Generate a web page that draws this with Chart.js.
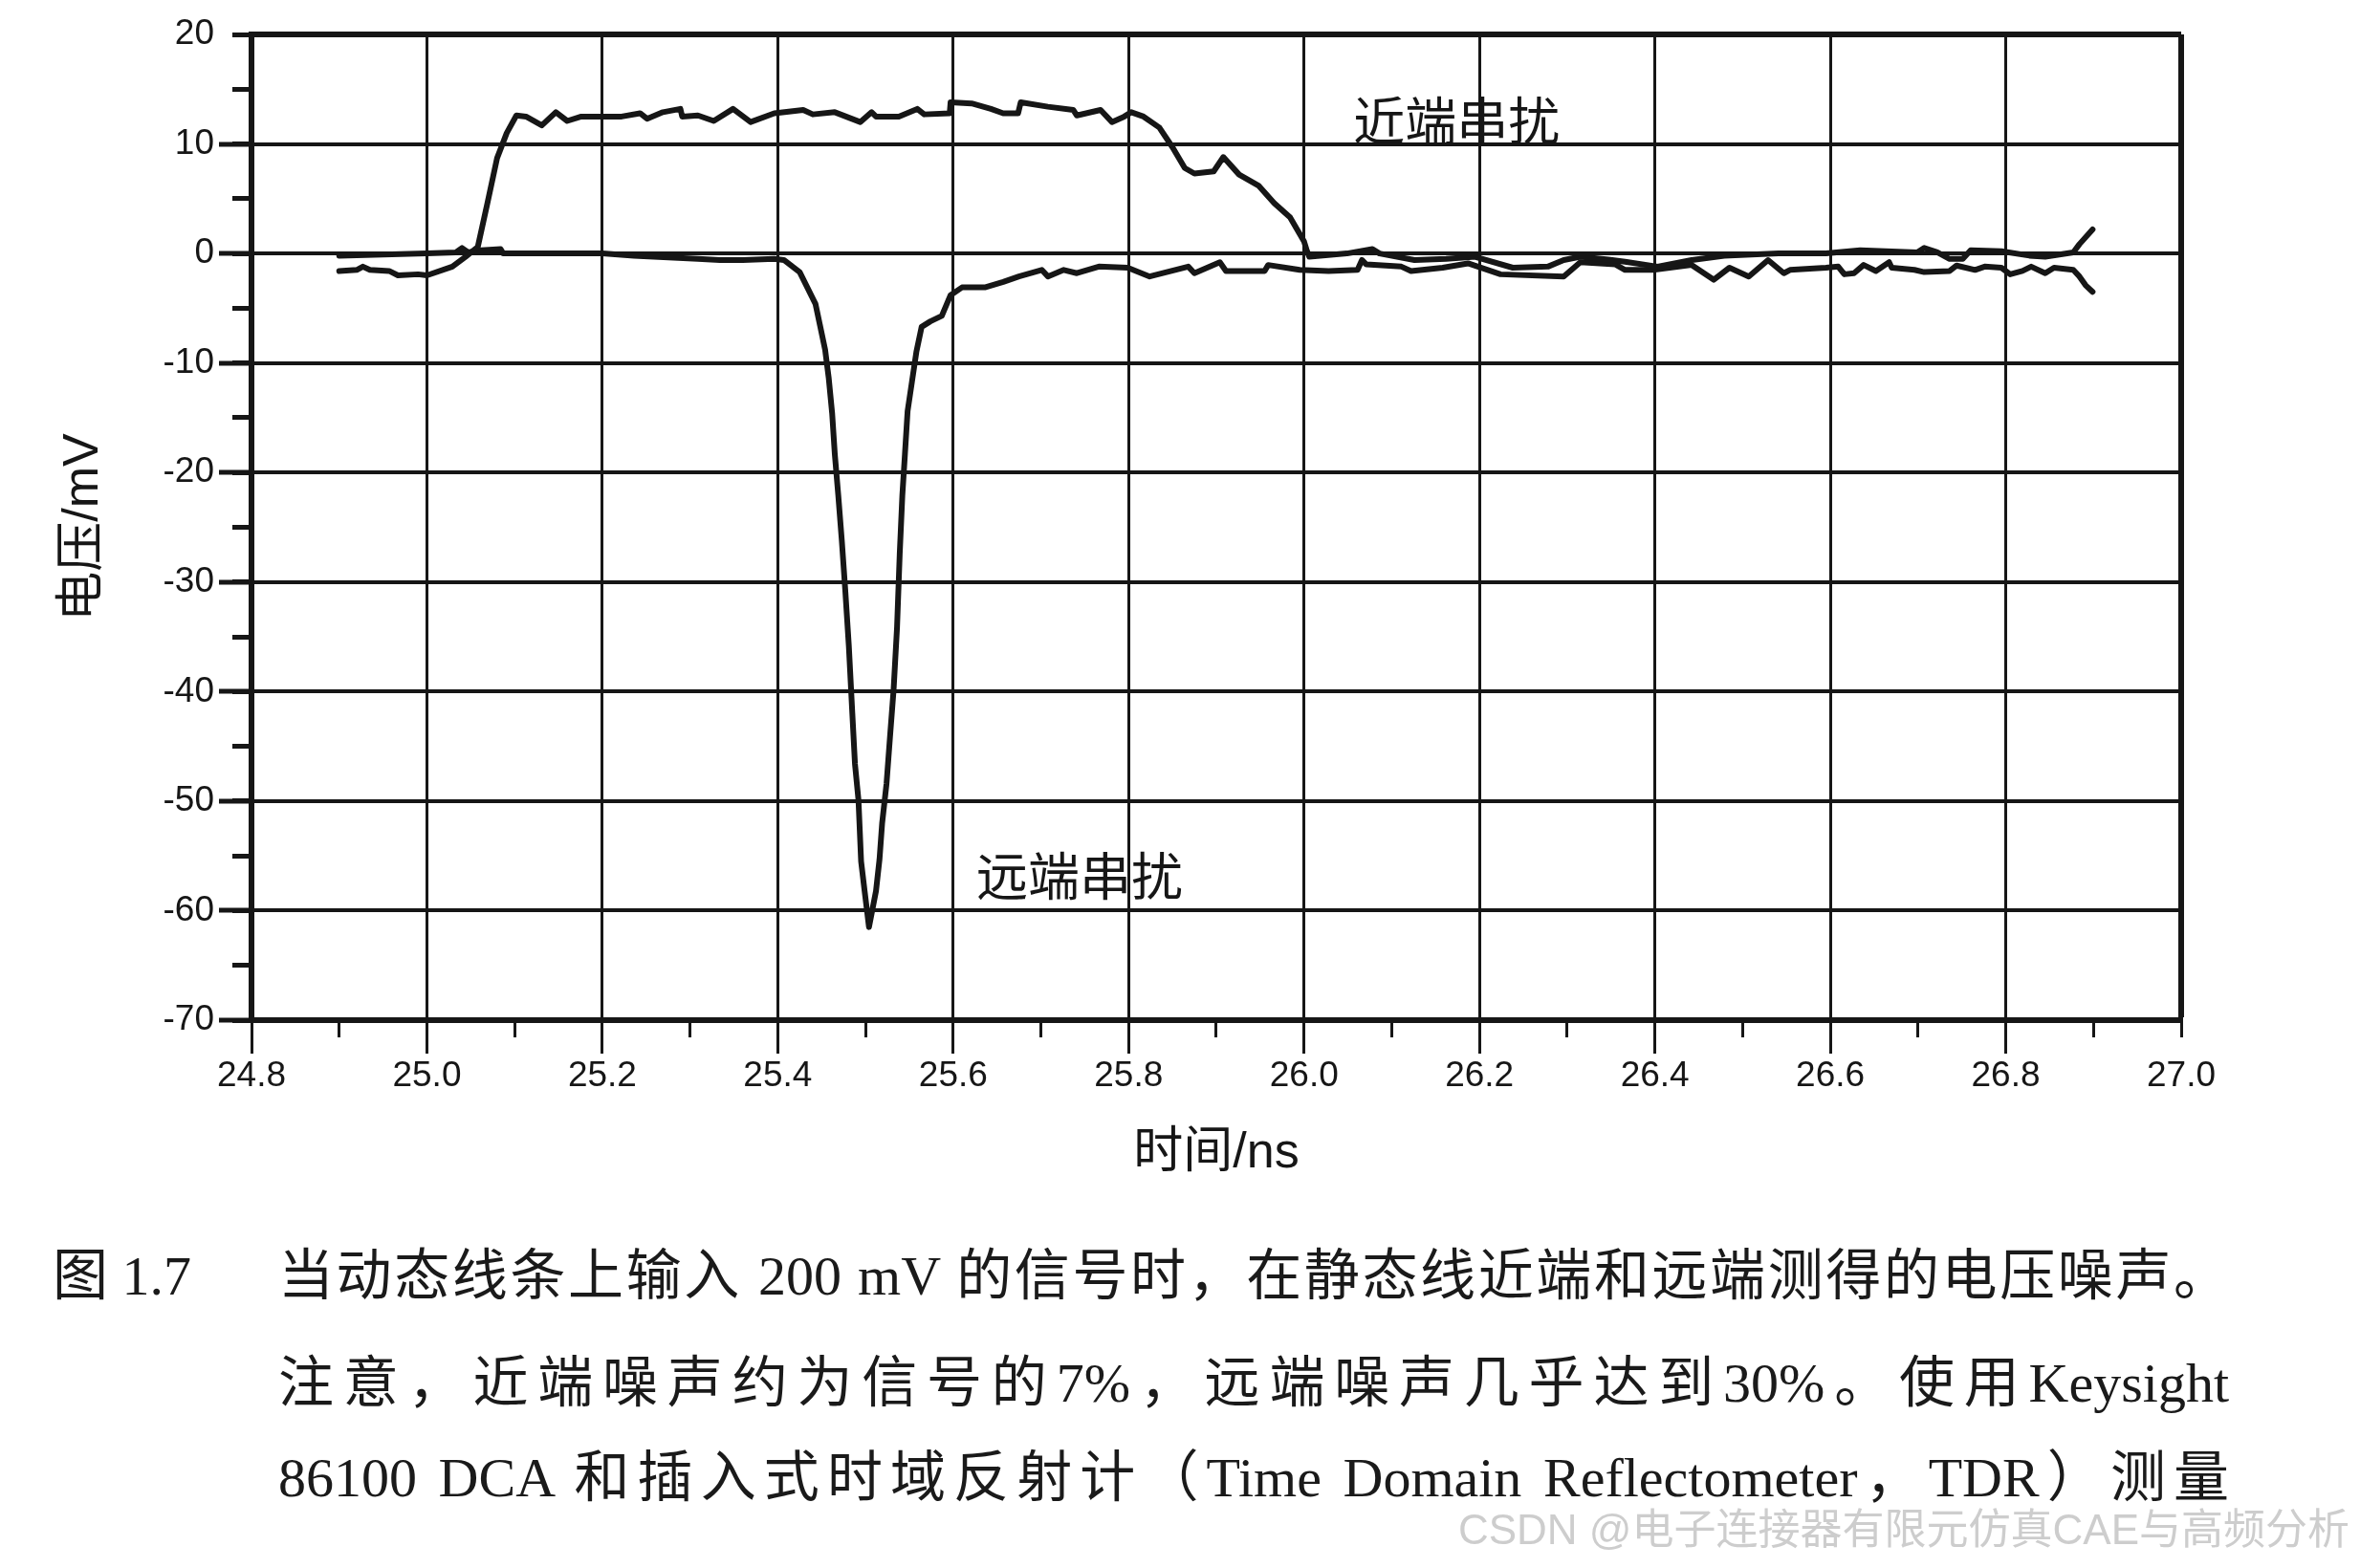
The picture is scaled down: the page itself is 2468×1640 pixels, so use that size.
<!DOCTYPE html>
<html lang="zh-CN">
<head>
<meta charset="utf-8">
<title>近端串扰与远端串扰</title>
<script src="https://cdn.jsdelivr.net/npm/chart.js@4.4.1/dist/chart.umd.min.js"></script>
<style>
  html, body { margin: 0; padding: 0; background: #fff; }
  .page { position: relative; width: 2468px; height: 1640px; overflow: hidden; background: #fff; }
  #crosstalk { position: absolute; left: 0; top: 0; }
  .caption {
    position: absolute;
    font-family: "Liberation Serif", "Noto Sans CJK SC", serif;
    font-size: 58px;
    line-height: 58px;
    color: #1a1a1a;
  }
  .caption-line { left: 291px; width: 2040px; text-align: justify; text-align-last: justify; }
  .watermark {
    position: absolute;
    right: 11px;
    top: 1576px;
    font-family: "Liberation Sans", "Noto Sans CJK SC", sans-serif;
    font-size: 44px;
    line-height: 48px;
    color: #cdcdcd;
  }
</style>
</head>
<body>
<div class="page">
  <canvas id="crosstalk" width="2468" height="1640"></canvas>
  <div class="caption" style="left:55px; top:1306px;">图 1.7</div>
  <div class="caption caption-line" style="top:1306px;">当动态线条上输入 200 mV 的信号时，在静态线近端和远端测得的电压噪声。</div>
  <div class="caption caption-line" style="top:1418px;">注意，近端噪声约为信号的7%，远端噪声几乎达到30%。使用Keysight</div>
  <div class="caption caption-line" style="top:1517px;">86100 DCA 和插入式时域反射计（Time Domain Reflectometer，TDR）测量</div>
  <div class="watermark">CSDN @电子连接器有限元仿真CAE与高频分析</div>
</div>
<script>
// axis ranges (ns, mV)
const timeMin = 24.8;
const timeMax = 27.0;
const voltMin = -70;
const voltMax = 20;

// near-end crosstalk trace
const nearTime = [
  24.900, 24.920, 24.927, 24.935, 24.957, 24.967, 24.990, 25.000, 25.029, 25.044,
  25.058, 25.069, 25.080, 25.091, 25.102, 25.113, 25.131, 25.147, 25.160, 25.176,
  25.200, 25.222, 25.243, 25.251, 25.269, 25.289, 25.291, 25.309, 25.327, 25.349,
  25.369, 25.396, 25.429, 25.440, 25.465, 25.494, 25.507, 25.512, 25.538, 25.559,
  25.567, 25.596, 25.597, 25.621, 25.643, 25.657, 25.674, 25.677, 25.708, 25.737,
  25.741, 25.768, 25.781, 25.795, 25.803, 25.817, 25.835, 25.850, 25.864, 25.875,
  25.897, 25.908, 25.926, 25.948, 25.966, 25.984, 26.000, 26.003, 26.006, 26.049,
  26.078, 26.086, 26.126, 26.162, 26.195, 26.238, 26.278, 26.296, 26.315, 26.347,
  26.366, 26.403, 26.442, 26.479, 26.541, 26.595, 26.634, 26.699, 26.707, 26.722,
  26.736, 26.751, 26.760, 26.795, 26.827, 26.845, 26.877, 26.884, 26.899,
];
const nearVolt = [
  -1.6, -1.5, -1.2, -1.5, -1.6, -2.0, -1.9, -2.0, -1.2, -0.3,
  0.6, 4.6, 8.7, 11.0, 12.6, 12.5, 11.7, 12.9, 12.1, 12.5,
  12.5, 12.5, 12.8, 12.3, 12.9, 13.2, 12.5, 12.6, 12.1, 13.2,
  12.0, 12.8, 13.1, 12.7, 12.9, 12.0, 12.9, 12.5, 12.5, 13.2,
  12.7, 12.8, 13.8, 13.7, 13.2, 12.8, 12.8, 13.8, 13.4, 13.1,
  12.6, 13.1, 12.0, 12.5, 12.9, 12.5, 11.5, 9.7, 7.8, 7.3,
  7.5, 8.8, 7.2, 6.2, 4.6, 3.3, 1.1, 0.3, -0.3, 0.0,
  0.4, 0.0, -0.6, -0.5, -0.3, -1.3, -1.2, -0.6, -0.3, -0.55,
  -0.75, -1.2, -0.6, -0.2, 0.0, 0.0, 0.3, 0.1, 0.5, 0.1,
  -0.5, -0.5, 0.3, 0.2, -0.2, -0.3, 0.1, 0.85, 2.2,
];

// far-end crosstalk trace
const farTime = [
  24.900, 25.000, 25.033, 25.040, 25.047, 25.062, 25.084, 25.087, 25.200, 25.236,
  25.309, 25.334, 25.360, 25.396, 25.407, 25.425, 25.443, 25.448, 25.454, 25.458,
  25.462, 25.465, 25.469, 25.473, 25.477, 25.481, 25.485, 25.488, 25.492, 25.495,
  25.499, 25.504, 25.512, 25.516, 25.519, 25.524, 25.528, 25.532, 25.536, 25.539,
  25.542, 25.545, 25.548, 25.553, 25.558, 25.564, 25.574, 25.587, 25.597, 25.610,
  25.636, 25.657, 25.675, 25.701, 25.708, 25.726, 25.741, 25.766, 25.799, 25.824,
  25.868, 25.875, 25.904, 25.911, 25.955, 25.959, 25.995, 26.028, 26.061, 26.066,
  26.071, 26.111, 26.122, 26.158, 26.187, 26.224, 26.296, 26.315, 26.355, 26.366,
  26.398, 26.442, 26.467, 26.485, 26.507, 26.529, 26.547, 26.554, 26.595, 26.609,
  26.616, 26.627, 26.638, 26.652, 26.667, 26.670, 26.696, 26.707, 26.736, 26.744,
  26.765, 26.776, 26.795, 26.805, 26.819, 26.829, 26.845, 26.855, 26.877, 26.884,
  26.891, 26.899,
];
const farVolt = [
  -0.2, 0.0, 0.1, 0.5, 0.1, 0.3, 0.4, 0.0, 0.0, -0.2,
  -0.5, -0.6, -0.6, -0.5, -0.6, -1.7, -4.6, -6.5, -8.8, -11.3,
  -14.6, -18.3, -22.1, -26.2, -30.8, -35.8, -42.0, -46.6, -49.9, -55.5,
  -58.2, -61.5, -58.2, -55.3, -52.0, -48.4, -44.1, -39.9, -34.1, -27.5,
  -22.1, -18.3, -14.4, -11.7, -9.0, -6.7, -6.2, -5.7, -3.8, -3.1,
  -3.1, -2.6, -2.1, -1.5, -2.1, -1.5, -1.8, -1.2, -1.3, -2.1,
  -1.2, -1.8, -0.8, -1.6, -1.6, -1.05, -1.5, -1.6, -1.5, -0.6,
  -1.0, -1.2, -1.6, -1.3, -0.9, -1.9, -2.1, -0.8, -1.0, -1.5,
  -1.5, -1.05, -2.4, -1.3, -2.1, -0.6, -1.8, -1.5, -1.3, -1.2,
  -1.9, -1.8, -1.05, -1.6, -0.8, -1.3, -1.5, -1.7, -1.6, -1.1,
  -1.5, -1.2, -1.3, -1.9, -1.6, -1.2, -1.8, -1.3, -1.5, -2.1,
  -2.9, -3.5,
];

// text placed next to each trace, in data coordinates
const curveLabels = [
  { text: "近端串扰", t: 26.174, v: 12.1 },
  { text: "远端串扰", t: 25.744, v: -56.9 },
];

const INK = "#161616";
const latinFont = '"Liberation Sans", "Noto Sans CJK SC", sans-serif';

function toPoints(times, volts) {
  return times.map((t, i) => ({ x: t, y: volts[i] }));
}

function near(a, b) {
  return Math.abs(a - b) < 1e-6;
}

// fixes an axis box to a set size so the plot frame lands where it should
function fixBox(size) {
  return (scale) => {
    if (scale.isHorizontal()) {
      scale.height = size;
    } else {
      scale.width = size;
    }
    scale.paddingLeft = 0;
    scale.paddingRight = 0;
    scale.paddingTop = 0;
    scale.paddingBottom = 0;
  };
}

const curveLabelPlugin = {
  id: "curveLabels",
  afterDatasetsDraw(chart) {
    const { ctx, scales } = chart;
    ctx.save();
    ctx.font = '54px "Noto Sans CJK SC", sans-serif';
    ctx.fillStyle = INK;
    ctx.textAlign = "center";
    ctx.textBaseline = "middle";
    curveLabels.forEach((label) => {
      ctx.fillText(
        label.text,
        scales.x.getPixelForValue(label.t),
        scales.y.getPixelForValue(label.v),
      );
    });
    ctx.restore();
  },
};

const traceStyle = {
  borderColor: INK,
  borderWidth: 6,
  pointRadius: 0,
  tension: 0,
  fill: false,
  borderJoinStyle: "round",
  borderCapStyle: "round",
  xAxisID: "x",
  yAxisID: "y",
};

new Chart(document.getElementById("crosstalk"), {
  type: "line",
  data: {
    datasets: [
      { label: "近端串扰", data: toPoints(nearTime, nearVolt), ...traceStyle },
      { label: "远端串扰", data: toPoints(farTime, farVolt), ...traceStyle },
    ],
  },
  options: {
    responsive: false,
    animation: false,
    devicePixelRatio: 1,
    layout: {
      padding: { top: 36, right: 187, bottom: 393, left: 0 },
    },
    plugins: {
      legend: { display: false },
      tooltip: { enabled: false },
    },
    scales: {
      x: {
        type: "linear",
        position: "bottom",
        weight: 1,
        min: timeMin,
        max: timeMax,
        afterFit: fixBox(180),
        ticks: {
          stepSize: 0.2,
          autoSkip: false,
          maxRotation: 0,
          padding: 2,
          color: INK,
          font: { family: latinFont, size: 37 },
          callback: (value) => Number(value).toFixed(1),
        },
        grid: {
          color: INK,
          lineWidth: (ctx) => (near(ctx.tick.value, timeMax) ? 6 : 3),
          tickLength: 35,
          tickWidth: 3,
          tickColor: (ctx) =>
            near(ctx.tick.value, timeMax) ? "rgba(0,0,0,0)" : INK,
        },
        border: { display: true, color: INK, width: 6 },
        title: {
          display: true,
          text: "时间/ns",
          color: INK,
          font: { family: latinFont, size: 52 },
          padding: { top: 0, bottom: 9 },
        },
      },
      xMinor: {
        type: "linear",
        axis: "x",
        position: "bottom",
        weight: 0,
        min: timeMin,
        max: timeMax,
        afterFit: fixBox(0),
        ticks: { stepSize: 0.1, display: false, autoSkip: false },
        grid: {
          drawOnChartArea: false,
          tickLength: 18,
          tickWidth: 3,
          tickColor: INK,
        },
        border: { display: false },
      },
      y: {
        type: "linear",
        position: "left",
        weight: 1,
        min: voltMin,
        max: voltMax,
        afterFit: fixBox(263),
        ticks: {
          stepSize: 10,
          padding: 5,
          color: INK,
          font: { family: latinFont, size: 37 },
          callback: (value) => `${value}`,
        },
        grid: {
          color: INK,
          lineWidth: (ctx) => (near(ctx.tick.value, voltMax) ? 6 : 4),
          tickLength: 34,
          tickWidth: 5,
          tickColor: (ctx) =>
            near(ctx.tick.value, voltMax) ? "rgba(0,0,0,0)" : INK,
        },
        border: { display: true, color: INK, width: 6 },
        title: {
          display: true,
          text: "电压/mV",
          color: INK,
          font: { family: latinFont, size: 52 },
          padding: { top: 56, bottom: 0 },
        },
      },
      yMinor: {
        type: "linear",
        axis: "y",
        position: "left",
        weight: 0,
        min: voltMin,
        max: voltMax,
        afterFit: fixBox(0),
        ticks: { stepSize: 5, display: false },
        grid: {
          drawOnChartArea: false,
          tickLength: 20,
          tickWidth: 5,
          tickColor: INK,
        },
        border: { display: false },
      },
    },
  },
  plugins: [curveLabelPlugin],
});
</script>
</body>
</html>
